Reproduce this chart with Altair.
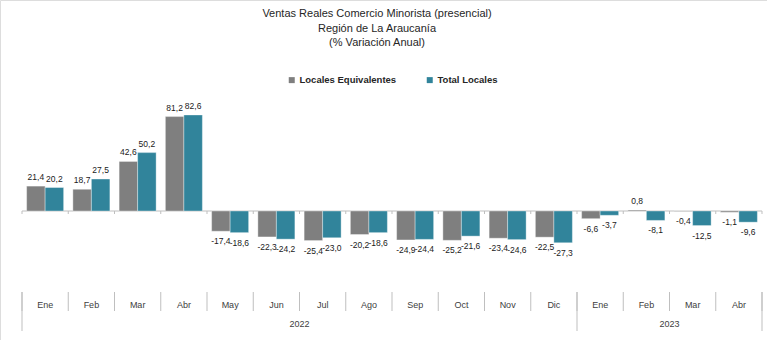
import altair as alt
import pandas as pd

months = ["Ene", "Feb", "Mar", "Abr", "May", "Jun", "Jul", "Ago", "Sep", "Oct", "Nov", "Dic",
          "Ene", "Feb", "Mar", "Abr"]
years = ["2022"] * 12 + ["2023"] * 4
locales_equivalentes = [21.4, 18.7, 42.6, 81.2, -17.4, -22.3, -25.4, -20.2, -24.9, -25.2, -23.4, -22.5,
                        -6.6, 0.8, -0.4, -1.1]
total_locales = [20.2, 27.5, 50.2, 82.6, -18.6, -24.2, -23.0, -18.6, -24.4, -21.6, -24.6, -27.3,
                 -3.7, -8.1, -12.5, -9.6]
series_names = ["Locales Equivalentes", "Total Locales"]
colors = ["#7F7F7F", "#31849B"]
title_lines = ["Ventas Reales Comercio Minorista (presencial)", "Región de La Araucanía", "(% Variación Anual)"]

FONT = "Liberation Sans, Arial, sans-serif"

rows = []
for i, (m, yv) in enumerate(zip(months, years)):
    key = f"{i:02d}"
    rows.append({"key": key, "idx": i, "mes": m, "year": yv, "serie": series_names[0], "v": locales_equivalentes[i]})
    rows.append({"key": key, "idx": i, "mes": m, "year": yv, "serie": series_names[1], "v": total_locales[i]})
df = pd.DataFrame(rows)

month_df = pd.DataFrame({"idx": list(range(len(months))), "mes": months})
bounds_df = pd.DataFrame({"b": list(range(len(months) + 1)), "zero": [0] * (len(months) + 1)})
axis_df = pd.DataFrame({"s": [0], "e": [len(months)], "zero": [0]})
year_df = pd.DataFrame({"year": ["2022", "2023"], "start": [0, 12], "end": [12, 16]})
year_bounds_df = pd.DataFrame({"b": [0, 12, 16]})

X0, X1 = 22, 762
xband = alt.Scale(domain=[f"{i:02d}" for i in range(len(months))], range=[X0, X1],
                  paddingInner=0.2, paddingOuter=0.1)
xlin = alt.Scale(domain=[0, len(months)], range=[X0, X1], nice=False, zero=False)
yscale = alt.Scale(domain=[-68, 100], range=[290.1, 94.7], nice=False, zero=False)

base = alt.Chart(df)
xoff = alt.XOffset("serie:N", sort=series_names, scale=alt.Scale(paddingInner=0, paddingOuter=0))

bars = base.mark_bar(stroke="#FFFFFF", strokeWidth=0.6, strokeOpacity=0.6).encode(
    x=alt.X("key:N", scale=xband, axis=None),
    xOffset=xoff,
    y=alt.Y("v:Q", scale=yscale, axis=None),
    y2=alt.datum(0),
    color=alt.Color("serie:N", sort=series_names,
                    scale=alt.Scale(domain=series_names, range=colors),
                    legend=alt.Legend(title=None, orient="none", legendX=287, legendY=75,
                                      direction="horizontal", symbolType="square", symbolSize=36,
                                      symbolStrokeWidth=0, labelFont=FONT, labelFontSize=9.5,
                                      labelFontWeight="bold", labelColor="#262626",
                                      columnPadding=28, labelOffset=3)),
)

label_expr = "replace(replace(format(datum.v, '.1f'), '.', ','), '\u2212', '-')"
pos_labels = base.transform_filter("datum.v >= 0").transform_calculate(lbl=label_expr).mark_text(
    baseline="bottom", dy=-4, fontSize=8.5, font=FONT, color="#1a1a1a"
).encode(
    x=alt.X("key:N", scale=xband, axis=None),
    xOffset=xoff,
    y=alt.Y("v:Q", scale=yscale, axis=None),
    text="lbl:N",
)
neg_labels = base.transform_filter("datum.v < 0").transform_calculate(lbl=label_expr).mark_text(
    baseline="top", dy=6, fontSize=8.5, font=FONT, color="#1a1a1a"
).encode(
    x=alt.X("key:N", scale=xband, axis=None),
    xOffset=xoff,
    y=alt.Y("v:Q", scale=yscale, axis=None),
    text="lbl:N",
)

zero_line = alt.Chart(axis_df).mark_rule(color="#BFBFBF", strokeWidth=1).encode(
    x=alt.X("s:Q", scale=xlin, axis=None), x2="e:Q",
    y=alt.Y("zero:Q", scale=yscale, axis=None),
)

zero_ticks = alt.Chart(bounds_df).mark_rule(color="#BFBFBF", strokeWidth=1).encode(
    x=alt.X("b:Q", scale=xlin, axis=None),
    y=alt.Y("zero:Q", scale=yscale, axis=None),
    y2=alt.value(214),
)

month_seps = alt.Chart(bounds_df).mark_rule(color="#BFBFBF", strokeWidth=1).encode(
    x=alt.X("b:Q", scale=xlin, axis=None),
    y=alt.value(292), y2=alt.value(311),
)
year_seps = alt.Chart(year_bounds_df).mark_rule(color="#BFBFBF", strokeWidth=1).encode(
    x=alt.X("b:Q", scale=xlin, axis=None),
    y=alt.value(292), y2=alt.value(331),
)
month_text = alt.Chart(month_df).transform_calculate(c="datum.idx + 0.5").mark_text(
    fontSize=9, font=FONT, color="#404040", baseline="middle"
).encode(
    x=alt.X("c:Q", scale=xlin, axis=None),
    y=alt.value(305),
    text="mes:N",
)
year_text = alt.Chart(year_df).transform_calculate(c="(datum.start + datum.end) / 2").mark_text(
    fontSize=9, font=FONT, color="#404040", baseline="middle"
).encode(
    x=alt.X("c:Q", scale=xlin, axis=None),
    y=alt.value(324),
    text="year:N",
)
title_text = alt.Chart(axis_df).mark_text(
    text=title_lines, lineHeight=14.5, fontSize=11, font=FONT, color="#262626", baseline="top"
).encode(
    x=alt.value(377),
    y=alt.value(8),
)

chart = alt.layer(
    zero_line, zero_ticks, bars, pos_labels, neg_labels,
    month_seps, year_seps, month_text, year_text, title_text
).resolve_scale(x="independent").properties(
    width=767, height=340, padding=0,
    autosize=alt.AutoSizeParams(type="none"),
).configure_view(stroke="#868686", strokeWidth=1).configure(background="white")

chart.save("out.html", embed_options={"renderer": "svg", "actions": False})
